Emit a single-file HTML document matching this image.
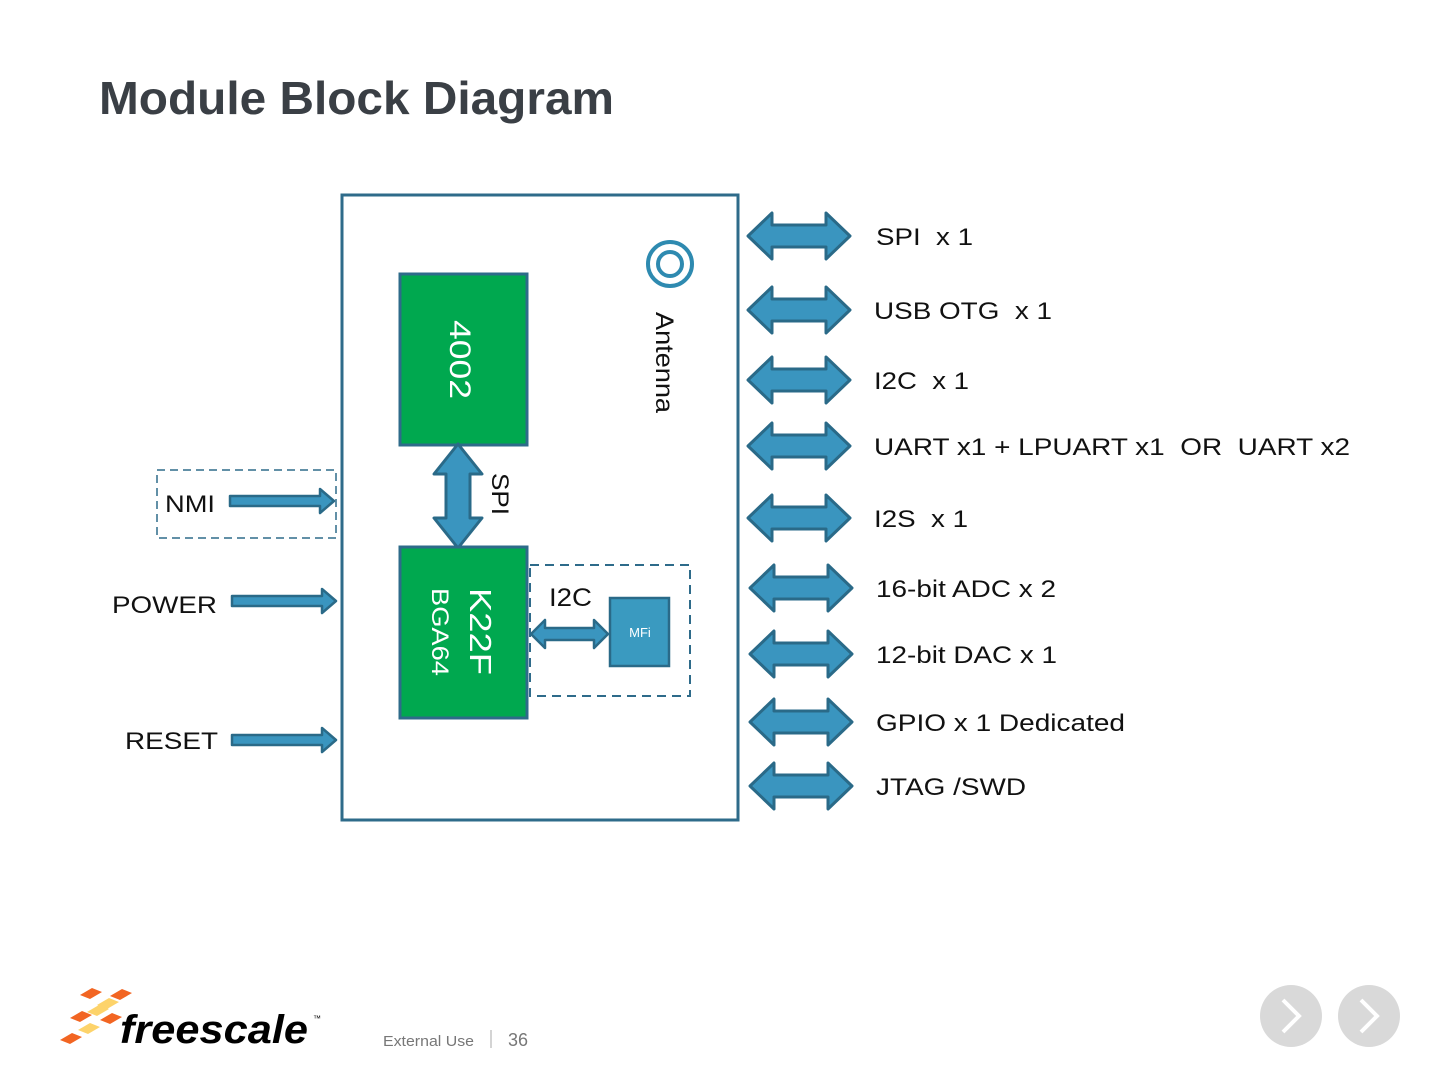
<!DOCTYPE html>
<html><head><meta charset="utf-8"><style>
body{margin:0;background:#fff;}
svg text{font-family:"Liberation Sans",sans-serif;white-space:pre;}
</style></head><body>
<svg width="1440" height="1080" viewBox="0 0 1440 1080" xmlns="http://www.w3.org/2000/svg" xml:space="preserve">
<defs>
<g id="da"><path d="M0,0 L24,-23 L24,-11 L78,-11 L78,-23 L102,0 L78,23 L78,11 L24,11 L24,23 Z" fill="#3a95bf" stroke="#2a6a88" stroke-width="3" stroke-linejoin="round"/></g>
<g id="ra"><path d="M0,-5 L90,-5 L90,-12 L104,0 L90,12 L90,5 L0,5 Z" fill="#3a95bf" stroke="#2a6a88" stroke-width="2.5" stroke-linejoin="round"/></g>
</defs>
<text x="99" y="114" font-size="46" font-weight="bold" fill="#3a3f45" textLength="515" lengthAdjust="spacingAndGlyphs">Module Block Diagram</text>

<rect x="342" y="195" width="396" height="625" fill="#fff" stroke="#2e6b8a" stroke-width="3"/>
<circle cx="670" cy="264" r="22" fill="none" stroke="#2e8ab0" stroke-width="4"/>
<circle cx="670" cy="264" r="12" fill="none" stroke="#2e8ab0" stroke-width="4"/>
<text transform="translate(656,312) rotate(90)" font-size="25" fill="#111" textLength="101" lengthAdjust="spacingAndGlyphs">Antenna</text>

<rect x="400" y="274" width="127" height="171" fill="#00a84f" stroke="#2e6b8a" stroke-width="3"/>
<text transform="translate(450,320) rotate(90)" font-size="30" fill="#fff" textLength="79" lengthAdjust="spacingAndGlyphs">4002</text>

<path d="M458,444 L482,474 L470,474 L470,518 L482,518 L458,548 L434,518 L446,518 L446,474 L434,474 Z" fill="#3a95bf" stroke="#2a6a88" stroke-width="3" stroke-linejoin="round"/>
<text transform="translate(492,473) rotate(90)" font-size="24" fill="#111" textLength="42" lengthAdjust="spacingAndGlyphs">SPI</text>

<rect x="400" y="547" width="127" height="171" fill="#00a84f" stroke="#2e6b8a" stroke-width="3"/>
<text transform="translate(470,588) rotate(90)" font-size="31" fill="#fff" textLength="87" lengthAdjust="spacingAndGlyphs">K22F</text>
<text transform="translate(432,588) rotate(90)" font-size="24" fill="#fff" textLength="88" lengthAdjust="spacingAndGlyphs">BGA64</text>

<rect x="530" y="565" width="160" height="131" fill="none" stroke="#2e6b8a" stroke-width="2" stroke-dasharray="9,6"/>
<text x="549" y="606" font-size="25" fill="#111" textLength="43" lengthAdjust="spacingAndGlyphs">I2C</text>
<path d="M531,634 L545,620 L545,628 L594,628 L594,620 L608,634 L594,648 L594,640 L545,640 L545,648 Z" fill="#3a95bf" stroke="#2a6a88" stroke-width="2.5" stroke-linejoin="round"/>
<rect x="610" y="598" width="59" height="68" fill="#3a9ac0" stroke="#2a6a88" stroke-width="2.5"/>
<text x="640" y="637" font-size="13" fill="#fff" text-anchor="middle">MFi</text>

<rect x="157" y="470" width="179" height="68" fill="none" stroke="#2e6b8a" stroke-width="1.5" stroke-dasharray="8,5"/>
<text x="165" y="512" font-size="24" fill="#111" textLength="50" lengthAdjust="spacingAndGlyphs">NMI</text>
<use href="#ra" x="230" y="501"/>
<text x="112" y="613" font-size="24" fill="#111" textLength="105" lengthAdjust="spacingAndGlyphs">POWER</text>
<use href="#ra" x="232" y="601"/>
<text x="125" y="749" font-size="24" fill="#111" textLength="93" lengthAdjust="spacingAndGlyphs">RESET</text>
<use href="#ra" x="232" y="740"/>

<use href="#da" x="748" y="236"/>
<use href="#da" x="748" y="310"/>
<use href="#da" x="748" y="380"/>
<use href="#da" x="748" y="446"/>
<use href="#da" x="748" y="518"/>
<use href="#da" x="750" y="588"/>
<use href="#da" x="750" y="654"/>
<use href="#da" x="750" y="722"/>
<use href="#da" x="750" y="786"/>

<g font-size="24" fill="#111">
<text x="876" y="245" textLength="97" lengthAdjust="spacingAndGlyphs">SPI  x 1</text>
<text x="874" y="319" textLength="178" lengthAdjust="spacingAndGlyphs">USB OTG  x 1</text>
<text x="874" y="389" textLength="95" lengthAdjust="spacingAndGlyphs">I2C  x 1</text>
<text x="874" y="455" textLength="476" lengthAdjust="spacingAndGlyphs">UART x1 + LPUART x1  OR  UART x2</text>
<text x="874" y="527" textLength="94" lengthAdjust="spacingAndGlyphs">I2S  x 1</text>
<text x="876" y="597" textLength="180" lengthAdjust="spacingAndGlyphs">16-bit ADC x 2</text>
<text x="876" y="663" textLength="181" lengthAdjust="spacingAndGlyphs">12-bit DAC x 1</text>
<text x="876" y="731" textLength="249" lengthAdjust="spacingAndGlyphs">GPIO x 1 Dedicated</text>
<text x="876" y="795" textLength="150" lengthAdjust="spacingAndGlyphs">JTAG /SWD</text>
</g>

<!-- logo -->
<g>
<polygon points="80,995 92,988 102,992 90,999" fill="#f26522"/>
<polygon points="97,1005 109,998 119,1002 107,1009" fill="#fdd36a"/>
<polygon points="110,996 122,989 132,993 120,1000" fill="#f26522"/>
<polygon points="70,1018 82,1011 92,1015 80,1022" fill="#f26522"/>
<polygon points="87,1012 99,1005 109,1009 97,1016" fill="#fdd36a"/>
<polygon points="100,1020 112,1013 122,1017 110,1024" fill="#f26522"/>
<polygon points="78,1030 90,1023 100,1027 88,1034" fill="#fdd36a"/>
<polygon points="60,1040 72,1033 82,1037 70,1044" fill="#f26522"/>
</g>
<text x="120" y="1043" font-size="40" font-weight="bold" font-style="italic" fill="#000" textLength="188" lengthAdjust="spacingAndGlyphs">freescale</text>
<text x="313" y="1021" font-size="8" fill="#000">™</text>
<text x="383" y="1046" font-size="15" fill="#777" textLength="91" lengthAdjust="spacingAndGlyphs">External Use</text>
<line x1="491" y1="1030" x2="491" y2="1048" stroke="#aaa" stroke-width="1"/>
<text x="508" y="1046" font-size="18" fill="#777">36</text>

<circle cx="1291" cy="1016" r="31" fill="#d9d9d9"/>
<path d="M1283,1000 L1299,1016 L1283,1032" fill="none" stroke="#fff" stroke-width="4"/>
<circle cx="1369" cy="1016" r="31" fill="#d9d9d9"/>
<path d="M1361,1000 L1377,1016 L1361,1032" fill="none" stroke="#fff" stroke-width="4"/>
</svg>
</body></html>
